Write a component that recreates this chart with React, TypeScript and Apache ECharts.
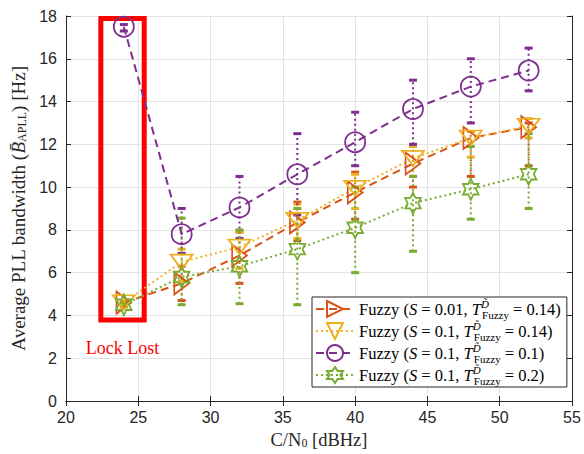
import React, { useEffect, useRef } from "react";
import * as echarts from "echarts";

const xs = [24, 28, 32, 36, 40, 44, 48, 52];
const orangeMean = [4.6, 5.5, 6.8, 8.35, 9.75, 11.1, 12.3, 12.8];
const orangeLow = [4.5, 4.7, 5.5, 7.5, 8.5, 10.0, 10.5, 11.0];
const orangeHigh = [4.7, 6.3, 7.9, 9.3, 10.7, 11.9, 12.6, 13.0];
const yellowMean = [4.6, 6.5, 7.2, 8.45, 9.95, 11.35, 12.3, 12.85];
const yellowLow = [4.5, 5.6, 6.2, 7.6, 9.0, 10.5, 11.4, 12.3];
const yellowHigh = [4.7, 7.1, 7.9, 9.2, 10.6, 11.9, 12.6, 13.2];
const purpleMean = [17.5, 7.8, 9.05, 10.6, 12.1, 13.65, 14.7, 15.45];
const purpleLow = [17.3, 6.9, 7.6, 8.7, 11.0, 12.0, 13.0, 14.5];
const purpleHigh = [17.6, 9.0, 10.5, 12.5, 13.5, 15.0, 16.0, 16.5];
const greenMean = [4.5, 5.8, 6.3, 7.1, 8.1, 9.25, 9.9, 10.6];
const greenLow = [4.4, 4.5, 4.55, 4.5, 6.0, 7.0, 8.5, 9.0];
const greenHigh = [4.6, 8.55, 8.0, 9.0, 10.0, 10.5, 11.9, 12.5];

const xTicks = { min: 20, max: 55, interval: 5 };
const yTicks = { min: 0, max: 18, interval: 2 };
const lockBox = { x0: 22.41, x1: 25.41, y0: 3.79, y1: 17.88 };

const C_OR = "#D95319";
const C_YE = "#EDB120";
const C_PU = "#7E2F8E";
const C_GR = "#77AC30";
const SERIF = "'Liberation Serif', 'DejaVu Serif', serif";
const SANS = "'Liberation Sans', Arial, sans-serif";

const HEX =
  "path://M0,-10L2.887,-5L8.66,-5L5.77,0L8.66,5L2.887,5L0,10L-2.887,5L-8.66,5L-5.77,0L-8.66,-5L-2.887,-5Z";
const RIGHT_TRI = "path://M-9,-11L9,0L-9,11Z";
const DOWN_TRI = "path://M-11,-9L11,-9L0,9Z";

const legendText: Record<string, string> = {
  s1: "Fuzzy ({it|S} = 0.01, {it|T}{sup|D\u0303}{sub|Fuzzy} = 0.14)",
  s2: "Fuzzy ({it|S} = 0.1, {it|T}{sup|D\u0303}{sub|Fuzzy} = 0.14)",
  s3: "Fuzzy ({it|S} = 0.1, {it|T}{sup|D\u0303}{sub|Fuzzy} = 0.1)",
  s4: "Fuzzy ({it|S} = 0.1, {it|T}{sup|D\u0303}{sub|Fuzzy} = 0.2)",
};

function errSeries(color: string, lows: number[], highs: number[]) {
  return {
    type: "custom",
    silent: true,
    z: 2,
    encode: { x: 0, y: [1, 2] },
    data: xs.map((x, i) => [x, lows[i], highs[i]]),
    renderItem: (_p: any, api: any) => {
      const x = api.value(0);
      const lo = api.coord([x, api.value(1)]);
      const hi = api.coord([x, api.value(2)]);
      const w = 4;
      return {
        type: "group",
        children: [
          { type: "line", shape: { x1: lo[0], y1: lo[1], x2: hi[0], y2: hi[1] }, style: { stroke: color, lineWidth: 2, lineDash: [2, 3] } },
          { type: "line", shape: { x1: lo[0] - w, y1: lo[1], x2: lo[0] + w, y2: lo[1] }, style: { stroke: color, lineWidth: 3 } },
          { type: "line", shape: { x1: hi[0] - w, y1: hi[1], x2: hi[0] + w, y2: hi[1] }, style: { stroke: color, lineWidth: 3 } },
        ],
      };
    },
  };
}

function lineSeries(name: string, color: string, vals: number[], symbol: string, size: any, dash: number[]) {
  return {
    type: "line",
    name,
    color,
    z: 3,
    data: xs.map((x, i) => [x, vals[i]]),
    symbol,
    symbolSize: size,
    symbolKeepAspect: true,
    showAllSymbol: true,
    lineStyle: { color, width: 2, type: dash },
    itemStyle: { color: "rgba(255,255,255,0)", borderColor: color, borderWidth: 1.8 },
  };
}

export default function App() {
  const ref = useRef<HTMLDivElement>(null);
  useEffect(() => {
    if (!ref.current) return;
    const chart = echarts.init(ref.current, null, { renderer: "svg" });
    const axisLine = { show: true, lineStyle: { color: "#262626", width: 1 } };
    chart.setOption({
      animation: false,
      backgroundColor: "#fff",
      grid: { left: 66, right: 12, top: 16, bottom: 52 },
      xAxis: [
        {
          type: "value",
          ...xTicks,
          axisLine,
          axisTick: { show: true, inside: true, length: 5, lineStyle: { color: "#262626" } },
          axisLabel: { color: "#262626", fontSize: 16, fontFamily: SANS, margin: 8 },
          splitLine: { show: true, lineStyle: { color: "#e3e3e3", width: 1 } },
          name: "C/N{sub|0} [dBHz]",
          nameLocation: "middle",
          nameGap: 29,
          nameTextStyle: {
            color: "#262626", fontSize: 18.5, fontFamily: SERIF,
            rich: { sub: { fontSize: 12, fontFamily: SERIF, color: "#262626", verticalAlign: "bottom", lineHeight: 13 } },
          },
        },
        {
          type: "value",
          position: "top",
          ...xTicks,
          axisLine,
          axisTick: { show: true, inside: true, length: 5, lineStyle: { color: "#262626" } },
          axisLabel: { show: false },
          splitLine: { show: false },
        },
      ],
      yAxis: [
        {
          type: "value",
          ...yTicks,
          axisLine,
          axisTick: { show: true, inside: true, length: 5, lineStyle: { color: "#262626" } },
          axisLabel: { color: "#262626", fontSize: 16, fontFamily: SANS, margin: 9 },
          splitLine: { show: true, lineStyle: { color: "#e3e3e3", width: 1 } },
          name: "Average PLL bandwidth ({it|B\u0304}{sub|APLL}) [Hz]",
          nameLocation: "middle",
          nameGap: 37,
          nameRotate: 90,
          nameTextStyle: {
            color: "#262626", fontSize: 19, fontFamily: SERIF,
            rich: {
              it: { fontSize: 19, fontStyle: "italic", fontFamily: SERIF, color: "#262626" },
              sub: { fontSize: 12, fontFamily: SERIF, color: "#262626", verticalAlign: "bottom", lineHeight: 14 },
            },
          },
        },
        {
          type: "value",
          position: "right",
          ...yTicks,
          axisLine,
          axisTick: { show: true, inside: true, length: 5, lineStyle: { color: "#262626" } },
          axisLabel: { show: false },
          splitLine: { show: false },
        },
      ],
      legend: {
        left: 312,
        top: 297,
        orient: "vertical",
        itemWidth: 38,
        itemHeight: 20,
        itemGap: 0,
        padding: [1, 6, 1, 3],
        backgroundColor: "#fff",
        borderColor: "#262626",
        borderWidth: 1,
        borderRadius: 0,
        data: ["s1", "s2", "s3", "s4"],
        formatter: (n: string) => legendText[n],
        textStyle: {
          color: "#000", fontSize: 16.5, fontFamily: SERIF, lineHeight: 22,
          rich: {
            it: { fontSize: 16.5, fontStyle: "italic", fontFamily: SERIF, color: "#000" },
            sup: { fontSize: 11, fontStyle: "italic", fontFamily: SERIF, color: "#000", verticalAlign: "top", lineHeight: 11, width: 1 },
            sub: { fontSize: 11, fontFamily: SERIF, color: "#000", verticalAlign: "bottom", lineHeight: 11 },
          },
        },
      },
      series: [
        errSeries(C_OR, orangeLow, orangeHigh),
        errSeries(C_YE, yellowLow, yellowHigh),
        errSeries(C_PU, purpleLow, purpleHigh),
        errSeries(C_GR, greenLow, greenHigh),
        {
          ...lineSeries("s1", C_OR, orangeMean, RIGHT_TRI, [18, 22], [8, 5]),
          markArea: {
            silent: true,
            itemStyle: { color: "rgba(0,0,0,0)", borderColor: "#ff0000", borderWidth: 5 },
            label: { show: true, position: "bottom", distance: 17, color: "#ff0000", fontSize: 18, fontFamily: SERIF },
            data: [[
              { name: "Lock Lost", xAxis: lockBox.x0, yAxis: lockBox.y1 },
              { xAxis: lockBox.x1, yAxis: lockBox.y0 },
            ]],
          },
        },
        lineSeries("s2", C_YE, yellowMean, DOWN_TRI, [22, 18], [2, 3]),
        lineSeries("s3", C_PU, purpleMean, "circle", 20, [8, 5]),
        lineSeries("s4", C_GR, greenMean, HEX, [18, 21], [2, 3]),
      ],
    });
    return () => chart.dispose();
  }, []);
  return <div ref={ref} style={{ width: 584, height: 454, position: "absolute", left: 0, top: 0 }} />;
}
